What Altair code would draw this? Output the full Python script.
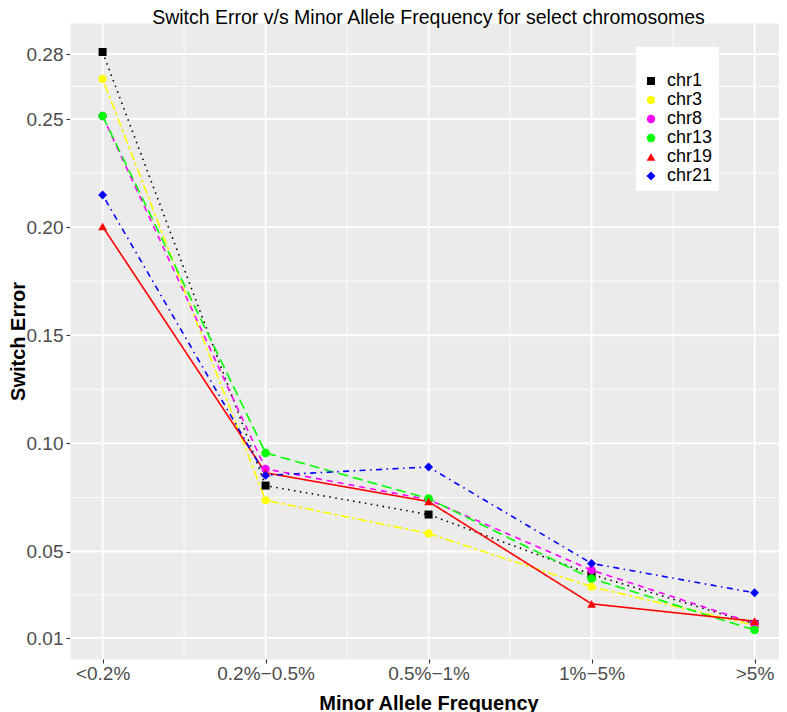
import altair as alt
import pandas as pd

# ---- data ----
categories = ["<0.2%", "0.2%−0.5%", "0.5%−1%", "1%−5%", ">5%"]
series = ["chr1", "chr3", "chr8", "chr13", "chr19", "chr21"]

chr1 = [0.2810, 0.0805, 0.0671, 0.0394, 0.0165]
chr3 = [0.2685, 0.0737, 0.0583, 0.0337, 0.0160]
chr8 = [0.2514, 0.0882, 0.0740, 0.0414, 0.0167]
chr13 = [0.2514, 0.0956, 0.0745, 0.0375, 0.0137]
chr19 = [0.2003, 0.0864, 0.0731, 0.0258, 0.0178]
chr21 = [0.2149, 0.0852, 0.0891, 0.0445, 0.0309]

y_ticks = [0.01, 0.05, 0.10, 0.15, 0.20, 0.25, 0.28]
y_minor = [0.03, 0.075, 0.125, 0.175, 0.225, 0.265]
x_ticks = [1, 2, 3, 4, 5]
x_minor = [1.5, 2.5, 3.5, 4.5]

# ---- styles ----
colors = ["#000000", "#FFFF00", "#FF00FF", "#00FF00", "#FF0000", "#0000FF"]
shapes = ["square", "circle", "circle", "circle", "triangle-up", "diamond"]
sizes = [64, 80, 50, 80, 110, 50]
dashes = [[1.5, 4.5], [3, 3, 9, 3], [6, 5], [10, 5], [1, 0], [1.5, 4.5, 6, 4.5]]

FONT = "Liberation Sans"

values = [chr1, chr3, chr8, chr13, chr19, chr21]
rows = []
for name, vals in zip(series, values):
    for i, v in enumerate(vals):
        rows.append({"chr": name, "x": i + 1, "y": v})
df = pd.DataFrame(rows)
df_ymin = pd.DataFrame({"y": y_minor})
df_xmin = pd.DataFrame({"x": x_minor})
df_ymaj = pd.DataFrame({"y": y_ticks})
df_xmaj = pd.DataFrame({"x": x_ticks})

xscale = alt.Scale(domain=[0.8, 5.15], nice=False, zero=False)
yscale = alt.Scale(domain=[0.0003, 0.2944], nice=False, zero=False)

cat_js = "[" + ",".join("'" + c + "'" for c in categories) + "]"

color_enc_scale = alt.Scale(domain=series, range=colors)

legend = alt.Legend(
    title=" ",
    orient="none",
    legendX=566,
    legendY=24,
    fillColor="white",
    padding=6,
    labelFont=FONT,
    labelFontSize=18,
    labelColor="black",
    titleFontSize=14,
    titlePadding=5,
    rowPadding=1,
    labelOffset=7,
    symbolOpacity=1,
)


def hrule(data, width):
    return alt.Chart(data).mark_rule(color="white", strokeWidth=width).encode(
        y=alt.Y("y:Q", scale=yscale, axis=None)
    )


def vrule(data, width):
    return alt.Chart(data).mark_rule(color="white", strokeWidth=width).encode(
        x=alt.X("x:Q", scale=xscale, axis=None)
    )


lines = alt.Chart(df).mark_line(strokeWidth=1.6).encode(
    x=alt.X("x:Q", scale=xscale, axis=None),
    y=alt.Y("y:Q", scale=yscale, axis=None),
    color=alt.Color("chr:N", scale=color_enc_scale, legend=None),
    strokeDash=alt.StrokeDash("chr:N", scale=alt.Scale(domain=series, range=dashes), legend=None),
)

points = alt.Chart(df).mark_point(filled=True, opacity=1).encode(
    x=alt.X(
        "x:Q",
        scale=xscale,
        axis=alt.Axis(
            values=x_ticks,
            labelExpr=cat_js + "[datum.value - 1]",
            title="Minor Allele Frequency",
            titleX=358.5,
            titleY=50,
            titleBaseline="alphabetic",
            labelPadding=1,
        ),
    ),
    y=alt.Y(
        "y:Q",
        scale=yscale,
        axis=alt.Axis(
            values=y_ticks,
            format=".2f",
            title="Switch Error",
            titleX=-62,
            titleBaseline="top",
            labelPadding=3,
        ),
    ),
    color=alt.Color("chr:N", scale=color_enc_scale, legend=legend),
    shape=alt.Shape("chr:N", scale=alt.Scale(domain=series, range=shapes), legend=legend),
    size=alt.Size("chr:N", scale=alt.Scale(domain=series, range=sizes), legend=legend),
)

chart = (
    alt.layer(
        hrule(df_ymin, 0.9),
        vrule(df_xmin, 0.9),
        hrule(df_ymaj, 1.8),
        vrule(df_xmaj, 1.8),
        lines,
        points,
    )
    .resolve_axis(x="independent", y="independent")
    .resolve_legend(color="independent", strokeDash="independent", shape="independent", size="independent")
    .properties(
        width=709,
        height=636,
        padding={"left": 62, "top": 15, "right": 0, "bottom": 53},
        autosize=alt.AutoSizeParams(type="none"),
        title=alt.Title(
            "Switch Error v/s Minor Allele Frequency for select chromosomes",
            font=FONT,
            fontSize=19.5,
            fontWeight="normal",
            color="black",
            anchor="middle",
            frame="group",
            dx=4,
            offset=-6,
        ),
    )
    .configure_view(fill="#EBEBEB", stroke="transparent")
    .configure_axis(
        labelFont=FONT,
        labelFontSize=19,
        labelColor="#4D4D4D",
        tickColor="#333333",
        tickSize=4,
        tickWidth=1.1,
        domain=False,
        grid=False,
        titleFont=FONT,
        titleFontSize=20,
        titleFontWeight="bold",
        titleColor="black",
    )
)

chart.save("out.html", embed_options={"renderer": "svg", "actions": False})
